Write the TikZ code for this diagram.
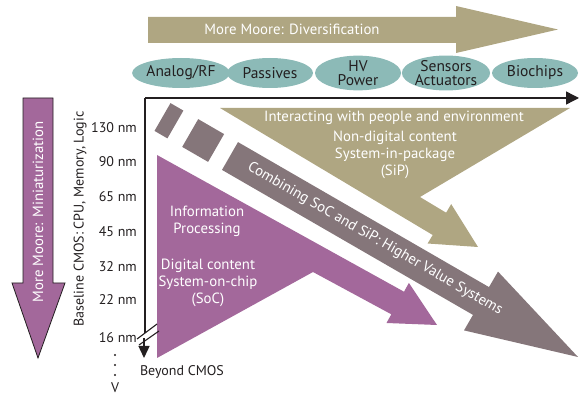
\documentclass[tikz,border=0pt]{standalone}
\usepackage{fontspec}
\setmainfont{PT Sans}
\usetikzlibrary{arrows.meta,shapes.geometric}
\definecolor{khaki}{HTML}{AFA682}
\definecolor{tealell}{HTML}{8CBAB7}
\definecolor{purp}{HTML}{A3689B}
\definecolor{greyband}{HTML}{85767A}
\definecolor{darktxt}{HTML}{231F20}
\begin{document}
\begin{tikzpicture}[x=1pt,y=-1pt,
  txt/.style={font=\fontsize{14}{17}\selectfont, align=center, inner sep=0pt, text=darktxt},
  wtxt/.style={font=\fontsize{14.8}{17}\selectfont, align=center, inner sep=0pt, text=white},
  ell/.style={ellipse, fill=tealell, minimum width=86pt, minimum height=30pt, inner sep=0pt,
    font=\fontsize{15.5}{13.5}\selectfont, align=center, text=darktxt},
  axisline/.style={line width=1.4pt, draw=darktxt},
  axistip/.style={-{Triangle[length=13pt,width=13pt]}}
]
\useasboundingbox (0,0) rectangle (579,398);

% top arrow: More Moore Diversification
\fill[khaki] (148,17) -- (456,17) -- (456,6) -- (558,29.5) -- (456,53) -- (456,43) -- (148,43) -- cycle;
\node[wtxt] (div) at (292,29) {More Moore: Diversification};

% ellipses
\node[ell] (e1) at (181,73) {Analog/RF};
\node[ell] (e2) at (270,73) {Passives};
\node[ell] (e3) at (358,73) {HV\\Power};
\node[ell] (e4) at (446,73) {Sensors\\Actuators};
\node[ell] (e5) at (535,73) {Biochips};

% left arrow: miniaturization
\filldraw[fill=purp, draw=darktxt, line width=0.8pt]
  (23,98) -- (53,98) -- (53,283) -- (65,283) -- (38,358) -- (12,283) -- (23,283) -- cycle;
\node[wtxt, rotate=90] (mini) at (38,212) {More Moore: Miniaturization};

% baseline label
\node[txt, rotate=90] (base) at (80,219) {Baseline CMOS: CPU, Memory, Logic};
\node[txt, anchor=east] (n130) at (137,128) {130 nm};
\node[txt, anchor=east] (n90) at (137,162) {90 nm};
\node[txt, anchor=east] (n65) at (137,197) {65 nm};
\node[txt, anchor=east] (n45) at (137,232) {45 nm};
\node[txt, anchor=east] (n32) at (137,267) {32 nm};
\node[txt, anchor=east] (n22) at (137,300) {22 nm};
\node[txt, anchor=east] (n16) at (137,338) {16 nm};
\fill[darktxt] (115,355) circle (1.1);
\fill[darktxt] (115,365) circle (1.1);
\fill[darktxt] (115,375) circle (1.1);
\node[txt] (vv) at (115,388) {V};
\node[txt] (beyond) at (182,372) {Beyond CMOS};

% khaki SiP arrow
\fill[khaki] (220,108) -- (570,108) -- (420,197) -- (446.1,212.7) -- (451.2,204.1)
  -- (478,247) -- (427.6,243.5) -- (432.7,235) -- cycle;
\node[wtxt] (inter) at (394,118) {Interacting with people and environment};
\node[wtxt] (sip) at (395,155) {Non-digital content\\System-in-package\\(SiP)};

% grey combining band
\fill[greyband] (170.5,103.1) -- (183.4,110.6) -- (167.4,138.4) -- (154.5,130.9) -- cycle;
\fill[greyband] (198.2,119.1) -- (224.1,134.1) -- (208.1,161.9) -- (182.2,146.9) -- cycle;
\fill[greyband] (238,142.1) -- (489,287.1) -- (498,271.6) -- (578,357) -- (464,330.4)
  -- (473,314.9) -- (222,169.9) -- cycle;
\node[wtxt, rotate=-30] (comb) at (375,239) {Combining SoC and SiP: Higher Value Systems};

% purple SoC arrow
\fill[purp] (157,155) -- (404,291.7) -- (408.9,282.9) -- (437,325) -- (386.5,323)
  -- (391.3,314.3) -- (313,272) -- (157,358) -- cycle;
\node[wtxt] (info) at (207,221.5) {Information\\Processing};
\node[wtxt] (soc) at (208,283) {Digital content\\System-on-chip\\(SoC)};

% axes
\coordinate (origin) at (145,98);
\coordinate (xend) at (579,98);
\coordinate (ybreak) at (145,333);
\coordinate (ystart2) at (144,338);
\coordinate (yend) at (144,358);
\draw[axisline, axistip] (origin) -- (xend);
\draw[axisline] (origin) -- (ybreak);
\draw[axisline, -{Triangle[length=12pt,width=11pt]}] (ystart2) -- (yend);
\coordinate (s1a) at (137,339);
\coordinate (s1b) at (157,324);
\coordinate (s2a) at (139,345);
\coordinate (s2b) at (159,331);
\draw[line width=1.1pt, darktxt] (s1a) -- (s1b);
\draw[line width=1.1pt, darktxt] (s2a) -- (s2b);
\end{tikzpicture}
\end{document}
